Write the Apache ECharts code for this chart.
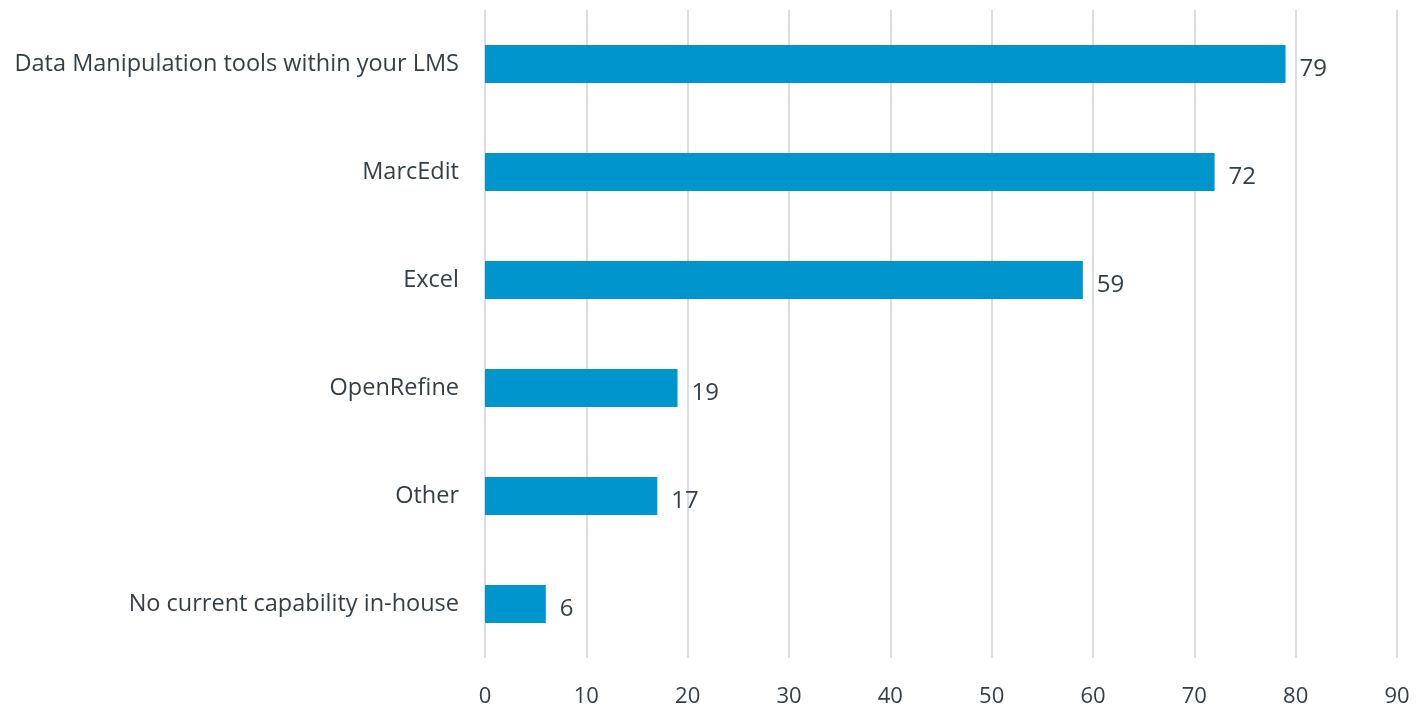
<!DOCTYPE html>
<html>
<head>
<meta charset="utf-8">
<script src="https://cdn.jsdelivr.net/npm/echarts@6/dist/echarts.min.js"></script>
<style>html,body{margin:0;padding:0;background:#fff;}#c{width:1416px;height:712px;}</style>
</head>
<body>
<div id="c"></div>
<script>
const categories = ["Data Manipulation tools within your LMS", "MarcEdit", "Excel", "OpenRefine", "Other", "No current capability in-house"];
const values = [79, 72, 59, 19, 17, 6];
const xTicks = [0, 10, 20, 30, 40, 50, 60, 70, 80, 90];

const chart = echarts.init(document.getElementById('c'));
chart.setOption({
  animation: false,
  textStyle: { fontFamily: 'Open Sans' },
  grid: { left: 485, right: 19, top: 10, bottom: 54, containLabel: false },
  xAxis: {
    type: 'value', min: xTicks[0], max: xTicks[xTicks.length - 1], interval: 10,
    axisLine: { show: false }, axisTick: { show: false },
    splitLine: { show: true, lineStyle: { color: '#D9DEE5', width: 2 } },
    axisLabel: { color: '#333F48', fontSize: 22, margin: 28 }
  },
  yAxis: {
    type: 'category', data: categories, inverse: true,
    axisLine: { show: false }, axisTick: { show: false },
    axisLabel: { color: '#333F48', fontSize: 23.5, margin: 26 }
  },
  series: [{
    type: 'bar', data: values, barWidth: 38,
    itemStyle: { color: '#0095CC' },
    label: { show: true, position: 'right', distance: 14, color: '#333F48', fontSize: 24, offset: [0, 5] }
  }]
});
</script>
</body>
</html>
